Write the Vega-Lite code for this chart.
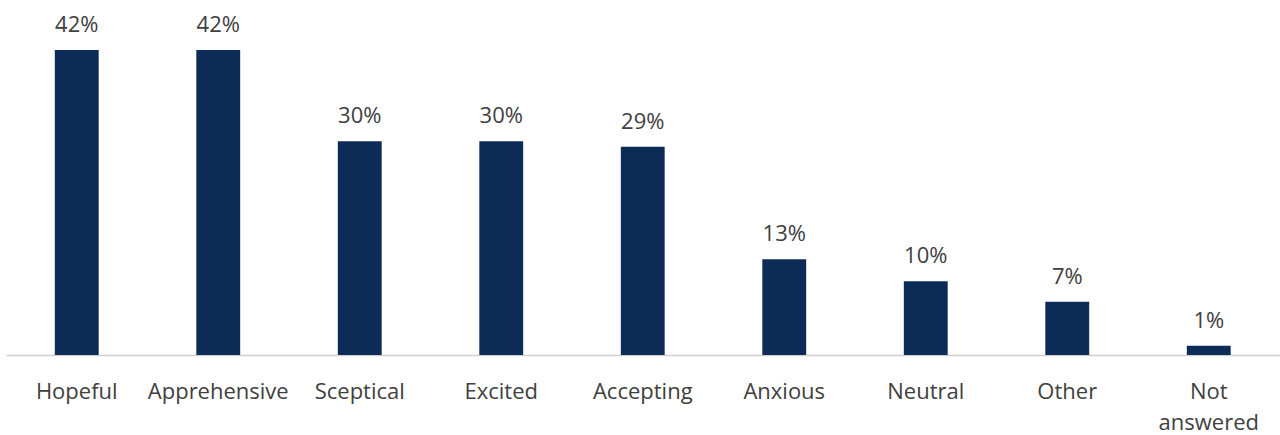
{
  "$schema": "https://vega.github.io/schema/vega-lite/v6.json",
  "autosize": {"type": "none"},
  "padding": {"left": 6, "top": 0, "right": 0, "bottom": 80},
  "width": 1273.5,
  "height": 355,
  "background": "white",
  "config": {"view": {"stroke": null}, "font": "Open Sans"},
  "data": {"values": [
    {"category": "Hopeful", "value": 0.4236},
    {"category": "Apprehensive", "value": 0.4236},
    {"category": "Sceptical", "value": 0.2968},
    {"category": "Excited", "value": 0.2968},
    {"category": "Accepting", "value": 0.2893},
    {"category": "Anxious", "value": 0.1329},
    {"category": "Neutral", "value": 0.1024},
    {"category": "Other", "value": 0.074},
    {"category": "Not answered", "value": 0.0129}
  ]},
  "encoding": {
    "x": {
      "field": "category", "type": "nominal", "sort": null,
      "scale": {"paddingInner": 0.69, "paddingOuter": 0.345},
      "axis": {
        "title": null, "labelAngle": 0, "ticks": false,
        "domainColor": "#d0d0d0", "domainWidth": 1.5,
        "labelFont": "Open Sans", "labelFontSize": 22, "labelColor": "#404040",
        "labelPadding": 26, "labelLineHeight": 31,
        "labelExpr": "datum.label == 'Not answered' ? ['Not', 'answered'] : datum.label"
      }
    },
    "y": {
      "field": "value", "type": "quantitative",
      "scale": {"domain": [0, 0.49306], "nice": false, "zero": true},
      "axis": null
    }
  },
  "layer": [
    {"mark": {"type": "bar", "color": "#0c2b57"}},
    {
      "mark": {"type": "text", "baseline": "alphabetic", "dy": -18, "fontSize": 22, "color": "#404040", "font": "Open Sans"},
      "encoding": {"text": {"field": "value", "type": "quantitative", "format": ".0%"}}
    }
  ]
}
